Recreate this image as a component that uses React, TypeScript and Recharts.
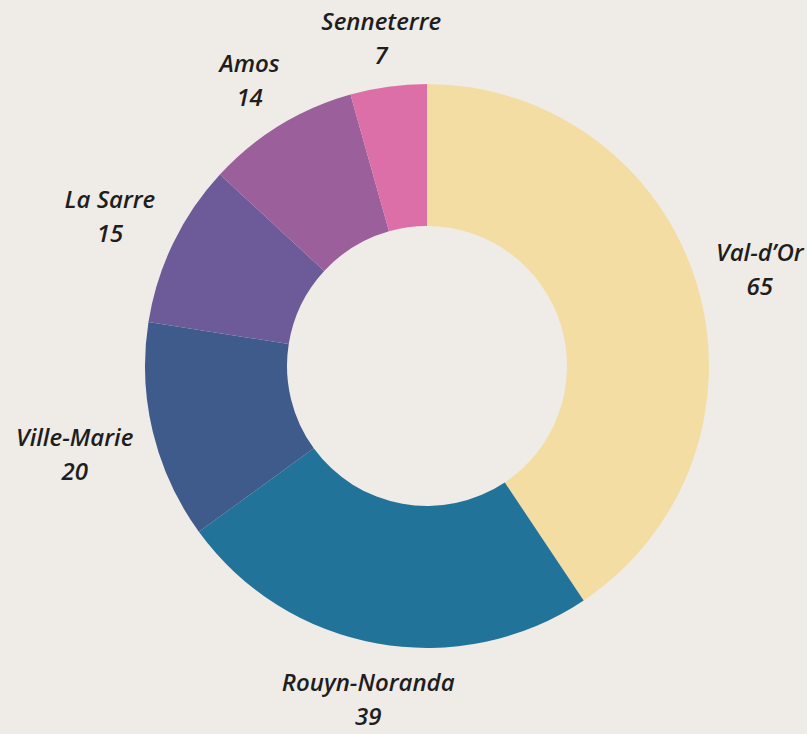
import { Cell, Pie, PieChart } from 'recharts'

const regions = ['Val-d\u2019Or', 'Rouyn-Noranda', 'Ville-Marie', 'La Sarre', 'Amos', 'Senneterre']
const counts = [65, 39, 20, 15, 14, 7]
const colors = ['#F3DDA2', '#21739A', '#3E5B8C', '#6D5A98', '#9B5F9B', '#DD6FA8']

const data = regions.map((name, i) => ({ name, value: counts[i] }))

const FONT = 'italic 600 24px "Open Sans"'
const RADIAN = Math.PI / 180

let ctx: CanvasRenderingContext2D | null = null
const measure = (s: string) => {
  if (!ctx) ctx = document.createElement('canvas').getContext('2d')
  if (!ctx) return s.length * 12
  ctx.font = FONT
  return ctx.measureText(s).width
}

const renderLabel = (props: any) => {
  const { cx, cy, midAngle, outerRadius, name, value } = props
  const dx = Math.cos(-midAngle * RADIAN)
  const dy = Math.sin(-midAngle * RADIAN)
  const r = outerRadius + 20
  const ax = cx + r * dx
  const ay = cy + r * dy
  // push the label box outward so its edge sits on the anchor point
  const halfW = Math.max(measure(String(name)), measure(String(value))) / 2
  const halfH = 32
  const t = Math.min(
    Math.abs(dx) > 1e-6 ? halfW / Math.abs(dx) : Infinity,
    Math.abs(dy) > 1e-6 ? halfH / Math.abs(dy) : Infinity,
  )
  const x = ax + dx * t
  const y = ay + dy * t + 2
  return (
    <text
      x={x}
      y={y}
      textAnchor="middle"
      fill="#1E1E1E"
      style={{ font: FONT }}
    >
      <tspan x={x} y={y - 16} dominantBaseline="central">
        {name}
      </tspan>
      <tspan x={x} y={y + 18} dominantBaseline="central">
        {value}
      </tspan>
    </text>
  )
}

export default function App() {
  return (
    <div
      style={{
        position: 'fixed',
        left: 0,
        top: 0,
        width: 807,
        height: 734,
        background: '#EFEBE6',
      }}
    >
      <PieChart width={807} height={734} margin={{ top: 0, right: 0, bottom: 0, left: 0 }}>
        <Pie
          data={data}
          dataKey="value"
          nameKey="name"
          cx={427}
          cy={366}
          outerRadius={282}
          innerRadius={140}
          startAngle={90}
          endAngle={-270}
          stroke="none"
          label={renderLabel}
          labelLine={false}
          isAnimationActive={false}
        >
          {data.map((_, i) => (
            <Cell key={i} fill={colors[i]} />
          ))}
        </Pie>
      </PieChart>
    </div>
  )
}
